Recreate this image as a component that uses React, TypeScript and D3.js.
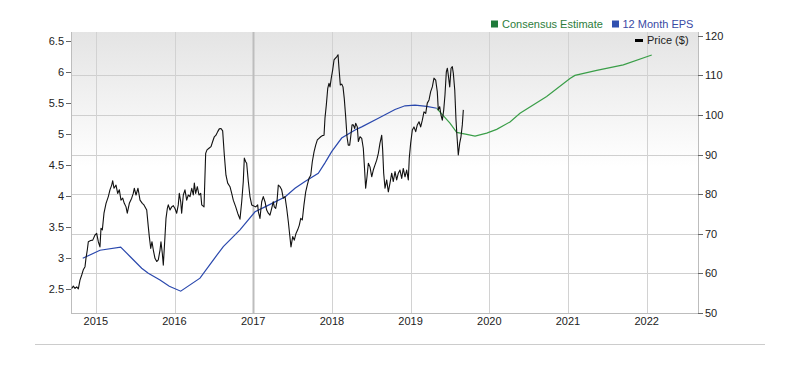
import React from "react";
import * as d3 from "d3";

// ---- Data ----
const yearTicks = [2015, 2016, 2017, 2018, 2019, 2020, 2021, 2022];
const epsTicks = [2.5, 3, 3.5, 4, 4.5, 5, 5.5, 6, 6.5];
const priceTicks = [50, 60, 70, 80, 90, 100, 110, 120];

// Price ($), decimal year
const priceDates = [
  2014.694, 2014.714, 2014.736, 2014.757, 2014.778, 2014.799, 2014.821, 2014.841, 2014.863, 2014.875,
  2014.892, 2014.905, 2014.935, 2014.961, 2014.99, 2015.011, 2015.032, 2015.053, 2015.066, 2015.083,
  2015.104, 2015.13, 2015.159, 2015.18, 2015.202, 2015.215, 2015.231, 2015.257, 2015.278, 2015.299,
  2015.32, 2015.342, 2015.362, 2015.384, 2015.4, 2015.426, 2015.456, 2015.476, 2015.489, 2015.511,
  2015.536, 2015.562, 2015.591, 2015.612, 2015.647, 2015.667, 2015.68, 2015.698, 2015.714, 2015.731,
  2015.752, 2015.774, 2015.794, 2015.816, 2015.828, 2015.845, 2015.858, 2015.879, 2015.892, 2015.909,
  2015.921, 2015.943, 2015.964, 2015.985, 2016.006, 2016.028, 2016.048, 2016.061, 2016.079, 2016.091,
  2016.112, 2016.133, 2016.155, 2016.175, 2016.197, 2016.219, 2016.239, 2016.252, 2016.269, 2016.29,
  2016.311, 2016.333, 2016.346, 2016.375, 2016.396, 2016.413, 2016.438, 2016.464, 2016.485, 2016.506,
  2016.527, 2016.549, 2016.569, 2016.591, 2016.612, 2016.633, 2016.654, 2016.676, 2016.705, 2016.727,
  2016.747, 2016.778, 2016.803, 2016.832, 2016.854, 2016.874, 2016.887, 2016.905, 2016.917, 2016.938,
  2016.959, 2016.981, 2017.001, 2017.032, 2017.057, 2017.065, 2017.086, 2017.108, 2017.128, 2017.15,
  2017.171, 2017.192, 2017.213, 2017.235, 2017.255, 2017.268, 2017.286, 2017.302, 2017.319, 2017.341,
  2017.362, 2017.382, 2017.404, 2017.426, 2017.446, 2017.464, 2017.48, 2017.502, 2017.522, 2017.544,
  2017.565, 2017.586, 2017.604, 2017.624, 2017.645, 2017.667, 2017.687, 2017.709, 2017.731, 2017.751,
  2017.773, 2017.794, 2017.815, 2017.836, 2017.858, 2017.878, 2017.9, 2017.912, 2017.929, 2017.947,
  2017.963, 2017.976, 2017.992, 2018.01, 2018.027, 2018.043, 2018.061, 2018.078, 2018.09, 2018.107,
  2018.124, 2018.141, 2018.157, 2018.175, 2018.192, 2018.208, 2018.226, 2018.239, 2018.256, 2018.272,
  2018.29, 2018.302, 2018.323, 2018.336, 2018.357, 2018.379, 2018.399, 2018.412, 2018.429, 2018.446,
  2018.463, 2018.484, 2018.506, 2018.526, 2018.548, 2018.569, 2018.59, 2018.611, 2018.633, 2018.645,
  2018.658, 2018.675, 2018.696, 2018.717, 2018.738, 2018.76, 2018.78, 2018.802, 2018.823, 2018.844,
  2018.865, 2018.887, 2018.907, 2018.929, 2018.95, 2018.971, 2018.983, 2019.001, 2019.022, 2019.043,
  2019.065, 2019.085, 2019.107, 2019.128, 2019.149, 2019.17, 2019.192, 2019.212, 2019.234, 2019.255,
  2019.276, 2019.297, 2019.319, 2019.339, 2019.352, 2019.37, 2019.386, 2019.403, 2019.421, 2019.437,
  2019.454, 2019.467, 2019.479, 2019.497, 2019.514, 2019.53, 2019.543, 2019.561, 2019.577, 2019.59,
  2019.606, 2019.624, 2019.64, 2019.657, 2019.67,
];
const priceValues = [
  56.2, 56.8, 56.2, 56.6, 56.1, 58.3, 59.6, 60.9, 61.7, 63.8,
  65.9, 68.0, 68.3, 68.4, 69.7, 70.1, 68.0, 66.7, 71.4, 71.0,
  75.2, 77.7, 79.4, 81.1, 82.3, 83.4, 81.5, 82.3, 80.2, 81.1,
  78.5, 79.0, 77.7, 76.8, 75.2, 77.7, 79.0, 80.2, 81.5, 79.8,
  81.5, 78.5, 77.7, 77.3, 76.0, 71.8, 69.3, 66.3, 68.0, 65.9,
  63.8, 63.0, 63.4, 65.9, 68.0, 65.1, 62.1, 69.3, 73.9, 76.4,
  77.3, 76.0, 76.8, 77.1, 76.4, 75.2, 77.3, 80.2, 78.1, 75.2,
  79.8, 81.1, 78.5, 79.8, 79.4, 81.5, 79.8, 82.8, 80.2, 81.9,
  79.8, 80.2, 77.3, 76.8, 90.3, 91.2, 91.6, 92.0, 93.3, 94.5,
  94.9, 95.8, 96.5, 96.6, 96.0, 89.9, 84.8, 82.8, 81.9, 80.2,
  78.5, 76.8, 75.2, 73.7, 78.1, 83.2, 89.1, 88.2, 87.8, 83.2,
  79.4, 77.3, 77.1, 76.8, 77.3, 75.6, 73.9, 78.1, 79.4, 78.1,
  76.0, 75.2, 74.7, 76.4, 78.1, 76.8, 76.4, 78.1, 82.3, 81.9,
  81.1, 79.0, 79.4, 76.4, 73.1, 69.7, 66.7, 69.3, 68.4, 70.1,
  71.0, 72.2, 73.9, 73.5, 77.3, 80.6, 82.3, 84.0, 84.8, 88.2,
  90.7, 92.4, 93.7, 94.1, 94.5, 94.8, 94.9, 99.2, 102.5, 106.7,
  108.0, 107.1, 109.3, 111.4, 113.9, 114.3, 114.7, 115.2, 111.8, 107.6,
  107.8, 107.1, 104.2, 99.6, 94.5, 92.4, 92.4, 94.5, 97.5, 97.5,
  96.6, 97.9, 97.0, 93.3, 94.5, 94.1, 91.6, 87.4, 81.5, 84.4,
  87.8, 86.9, 84.4, 86.1, 87.4, 88.6, 90.3, 92.9, 94.9, 91.2,
  85.3, 81.5, 83.6, 80.6, 82.8, 85.3, 83.2, 85.7, 83.6, 85.3,
  86.1, 84.0, 86.5, 84.4, 86.1, 83.6, 89.1, 92.9, 96.2, 97.0,
  95.8, 97.5, 98.3, 97.0, 98.7, 100.8, 100.4, 103.0, 103.8, 105.9,
  107.1, 109.3, 108.8, 105.9, 101.3, 102.1, 100.0, 98.7, 101.3, 105.1,
  110.9, 111.8, 110.1, 107.1, 111.8, 112.2, 110.5, 106.3, 98.7, 94.5,
  89.9, 92.9, 94.5, 97.5, 101.3,
];

// 12 Month EPS (actual)
const epsDates = [
  2014.834, 2015.053, 2015.316, 2015.435, 2015.583, 2015.667, 2015.816, 2015.934, 2016.079, 2016.324,
  2016.473, 2016.62, 2016.832, 2017.023, 2017.15, 2017.277, 2017.404, 2017.531, 2017.658, 2017.827,
  2017.912, 2017.997, 2018.124, 2018.294, 2018.379, 2018.59, 2018.802, 2018.929, 2019.056, 2019.205,
  2019.332,
];
const epsValues = [
  2.99, 3.12, 3.17, 3.02, 2.83, 2.75, 2.64, 2.54, 2.46, 2.67,
  2.93, 3.18, 3.45, 3.74, 3.82, 3.9, 3.98, 4.12, 4.23, 4.36,
  4.53, 4.71, 4.93, 5.06, 5.11, 5.25, 5.39, 5.45, 5.46, 5.44,
  5.41,
];

// Consensus Estimate
const estDates = [
  2019.332, 2019.5, 2019.586, 2019.713, 2019.819, 2019.967, 2020.094, 2020.263, 2020.39, 2020.729,
  2021.025, 2021.088, 2021.365, 2021.703, 2022.064,
];
const estValues = [
  5.41, 5.17, 5.02, 4.99, 4.96, 5.01, 5.07, 5.19, 5.33, 5.6,
  5.89, 5.94, 6.02, 6.11, 6.27,
];

const W = 790;
const H = 377;
const plot = { left: 71, right: 698, top: 32, bottom: 313 };
const FONT = "'Liberation Sans', Arial, Helvetica, sans-serif";

export default function App() {
  const x = d3
    .scaleLinear()
    .domain([2015, 2020])
    .range([95.8, 489.3]);
  const yL = d3.scaleLinear().domain([2.5, 6.5]).range([288.7, 40.7]);
  const yR = d3.scaleLinear().domain([50, 120]).range([plot.bottom, 35.8]);

  const priceLine = d3
    .line<number>()
    .x((_, i) => x(priceDates[i]))
    .y((d) => yR(d));
  const epsLine = d3
    .line<number>()
    .x((_, i) => x(epsDates[i]))
    .y((d) => yL(d));
  const estLine = d3
    .line<number>()
    .x((_, i) => x(estDates[i]))
    .y((d) => yL(d));

  return (
    <svg
      width={W}
      height={H}
      style={{ position: "absolute", left: 0, top: 0, background: "#fff" }}
      fontFamily={FONT}
    >
      <defs>
        <linearGradient id="bg" x1="0" y1="0" x2="0" y2="1">
          <stop offset="0" stopColor="#e4e4e4" />
          <stop offset="0.48" stopColor="#ffffff" />
          <stop offset="1" stopColor="#ffffff" />
        </linearGradient>
        <clipPath id="clip">
          <rect
            x={plot.left}
            y={plot.top}
            width={plot.right - plot.left}
            height={plot.bottom - plot.top}
          />
        </clipPath>
      </defs>
      <rect
        x={plot.left}
        y={plot.top}
        width={plot.right - plot.left}
        height={plot.bottom - plot.top}
        fill="url(#bg)"
      />
      {/* horizontal grid (right-axis ticks) */}
      {priceTicks
        .filter((t) => t > 50 && t < 120)
        .map((t) => (
          <line
            key={"h" + t}
            x1={plot.left}
            x2={plot.right}
            y1={Math.round(yR(t)) + 0.5}
            y2={Math.round(yR(t)) + 0.5}
            stroke="#cfcfcf"
            strokeWidth={1}
          />
        ))}
      {/* vertical grid */}
      {yearTicks.map((t) => (
        <line
          key={"v" + t}
          x1={Math.round(x(t)) + 0.5}
          x2={Math.round(x(t)) + 0.5}
          y1={plot.top}
          y2={plot.bottom}
          stroke={t === 2017 ? "#bdbdbd" : "#d2d2d2"}
          strokeWidth={t === 2017 ? 2 : 1}
        />
      ))}
      {/* axes lines */}
      <line x1={plot.left + 0.5} x2={plot.left + 0.5} y1={plot.top} y2={plot.bottom} stroke="#bdbdbd" />
      <line x1={plot.right + 0.5} x2={plot.right + 0.5} y1={plot.top} y2={plot.bottom} stroke="#bdbdbd" />
      <line x1={plot.left} x2={plot.right} y1={plot.bottom + 0.5} y2={plot.bottom + 0.5} stroke="#bdbdbd" />

      {/* left ticks */}
      {epsTicks.map((t) => (
        <g key={"l" + t}>
          <line x1={66} x2={71} y1={Math.round(yL(t)) + 0.5} y2={Math.round(yL(t)) + 0.5} stroke="#666" />
          <text x={64} y={yL(t) + 4} textAnchor="end" fontSize={11} fill="#222">
            {String(t)}
          </text>
        </g>
      ))}
      {/* right ticks */}
      {priceTicks.map((t) => (
        <g key={"r" + t}>
          <line x1={698} x2={703} y1={Math.round(yR(t)) + 0.5} y2={Math.round(yR(t)) + 0.5} stroke="#666" />
          <text x={705} y={yR(t) + 4} textAnchor="start" fontSize={11} fill="#222">
            {String(t)}
          </text>
        </g>
      ))}
      {/* x labels */}
      {yearTicks.map((t) => (
        <text key={"x" + t} x={x(t)} y={325} textAnchor="middle" fontSize={11} fill="#222">
          {String(t)}
        </text>
      ))}

      <g clipPath="url(#clip)" fill="none">
        <path d={estLine(estValues) || ""} stroke="#3a9e48" strokeWidth={1.2} />
        <path d={epsLine(epsValues) || ""} stroke="#2a48ad" strokeWidth={1.2} />
        <path d={priceLine(priceValues) || ""} stroke="#111" strokeWidth={1.1} strokeLinejoin="round" />
      </g>

      {/* legend */}
      <rect x={491} y={20.5} width={7} height={7} fill="#1f7a3a" />
      <text x={502} y={27.5} fontSize={11} fill="#2e7d3c">
        Consensus Estimate
      </text>
      <rect x={612} y={20.5} width={7} height={7} fill="#3050b0" />
      <text x={622.5} y={27.5} fontSize={11} fill="#3a4aa4">
        12 Month EPS
      </text>
      <rect x={635} y={39} width={8} height={3} fill="#000" />
      <text x={647} y={44} fontSize={11} fill="#222">
        Price ($)
      </text>

      {/* bottom separator */}
      <line x1={35} x2={765} y1={344.5} y2={344.5} stroke="#cccccc" />
    </svg>
  );
}
